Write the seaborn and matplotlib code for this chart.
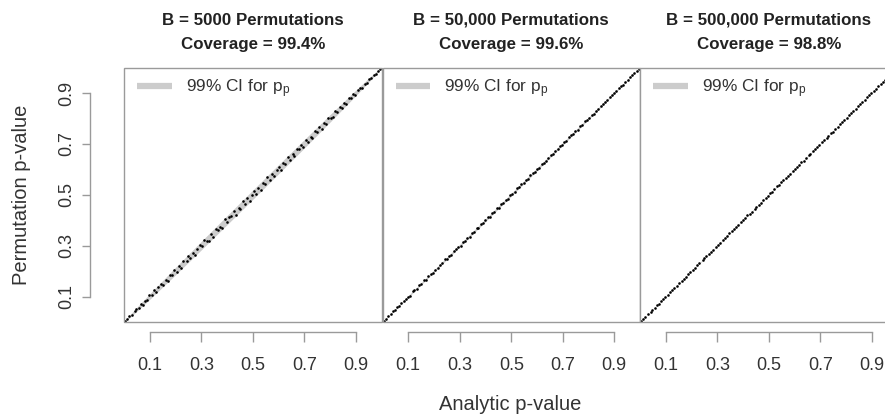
import numpy as np
import pandas as pd
import matplotlib
matplotlib.use("Agg")
import matplotlib.pyplot as plt
from matplotlib.lines import Line2D
from matplotlib.patches import Rectangle
import seaborn as sns

# ---------------- data ----------------
panel_titles = ["B = 5000 Permutations", "B = 50,000 Permutations", "B = 500,000 Permutations"]
coverage = ["99.4%", "99.6%", "98.8%"]

analytic_p = [
    0.004, 0.013, 0.021, 0.032, 0.041, 0.048, 0.057, 0.066, 0.073, 0.082,
    0.091, 0.098, 0.107, 0.118, 0.124, 0.133, 0.142, 0.151, 0.163, 0.169,
    0.178, 0.187, 0.196, 0.204, 0.215, 0.222, 0.231, 0.243, 0.249, 0.258,
    0.267, 0.276, 0.284, 0.295, 0.303, 0.311, 0.322, 0.329, 0.338, 0.347,
    0.356, 0.366, 0.372, 0.381, 0.392, 0.399, 0.408, 0.417, 0.426, 0.434,
    0.445, 0.452, 0.461, 0.469, 0.478, 0.489, 0.496, 0.504, 0.513, 0.521,
    0.532, 0.539, 0.548, 0.557, 0.566, 0.574, 0.583, 0.593, 0.601, 0.609,
    0.618, 0.627, 0.636, 0.644, 0.655, 0.662, 0.671, 0.681, 0.688, 0.697,
    0.706, 0.714, 0.725, 0.732, 0.741, 0.749, 0.759, 0.768, 0.776, 0.785,
    0.794, 0.802, 0.812, 0.821, 0.829, 0.838, 0.847, 0.856, 0.864, 0.873,
    0.883, 0.891, 0.899, 0.908, 0.917, 0.926, 0.934, 0.943, 0.952, 0.961,
    0.969, 0.978, 0.987, 0.995]

# permutation p-value minus analytic p-value, per panel
diff_b5000 = [
    0.001, -0.002, 0.003, -0.004, 0.002, 0.005, -0.003, 0.004, -0.006, 0.002,
    -0.005, 0.007, -0.002, 0.006, -0.008, 0.003, 0.009, -0.006, 0.001, -0.009,
    0.007, -0.004, 0.010, -0.007, 0.004, -0.010, 0.008, -0.002, 0.011, -0.008,
    0.005, -0.011, 0.002, 0.009, -0.006, 0.012, -0.003, -0.010, 0.007, -0.012,
    0.010, -0.005, 0.003, -0.011, 0.012, -0.008, 0.006, -0.002, 0.011, -0.012,
    0.004, -0.009, 0.013, -0.006, 0.008, -0.013, 0.002, 0.011, -0.010, 0.005,
    -0.012, 0.009, -0.004, 0.012, -0.008, 0.006, -0.011, 0.003, 0.010, -0.013,
    0.007, -0.005, 0.012, -0.009, 0.004, -0.011, 0.010, -0.003, 0.008, -0.010,
    0.011, -0.006, 0.002, -0.009, 0.010, -0.004, 0.007, -0.010, 0.005, -0.008,
    0.009, -0.002, -0.007, 0.008, -0.005, 0.006, -0.008, 0.003, -0.006, 0.007,
    -0.004, 0.005, -0.006, 0.002, 0.004, -0.005, 0.003, -0.004, 0.002, -0.003,
    0.003, -0.002, 0.001, -0.001]

diff_b50000 = [
    0.000, -0.001, 0.001, -0.001, 0.002, -0.001, 0.001, -0.002, 0.001, 0.002,
    -0.002, 0.001, -0.003, 0.002, 0.000, -0.002, 0.003, -0.001, 0.002, -0.003,
    0.001, 0.003, -0.002, 0.000, -0.003, 0.002, -0.001, 0.004, -0.002, 0.001,
    -0.004, 0.002, 0.003, -0.001, -0.003, 0.004, -0.002, 0.001, -0.004, 0.003,
    -0.001, 0.002, -0.003, 0.004, -0.002, 0.000, 0.003, -0.004, 0.002, -0.001,
    0.004, -0.003, 0.001, -0.002, 0.003, -0.004, 0.002, 0.000, -0.003, 0.004,
    -0.001, 0.003, -0.002, 0.001, -0.004, 0.002, 0.004, -0.003, 0.001, -0.002,
    0.003, -0.001, -0.004, 0.002, 0.003, -0.002, 0.001, -0.003, 0.004, -0.001,
    0.002, -0.003, 0.001, 0.003, -0.002, 0.000, -0.003, 0.002, -0.001, 0.003,
    -0.002, 0.001, 0.002, -0.003, 0.001, -0.002, 0.002, -0.001, 0.001, -0.002,
    0.002, -0.001, 0.001, -0.002, 0.001, 0.000, -0.001, 0.001, -0.001, 0.001,
    0.000, -0.001, 0.000, 0.000]

diff_b500000 = [
    0.0000, -0.0005, 0.0005, 0.0000, -0.0005, 0.0005, -0.0005, 0.0010, -0.0005, 0.0000,
    0.0010, -0.0010, 0.0005, -0.0005, 0.0010, 0.0000, -0.0010, 0.0005, -0.0010, 0.0010,
    -0.0005, 0.0015, -0.0010, 0.0005, -0.0015, 0.0010, 0.0000, -0.0010, 0.0015, -0.0005,
    0.0010, -0.0015, 0.0005, 0.0010, -0.0010, 0.0000, 0.0015, -0.0005, -0.0015, 0.0010,
    0.0005, -0.0010, 0.0015, -0.0015, 0.0005, 0.0010, -0.0005, 0.0015, -0.0010, 0.0000,
    -0.0015, 0.0010, 0.0005, -0.0010, 0.0015, -0.0005, 0.0000, 0.0010, -0.0015, 0.0005,
    0.0015, -0.0010, 0.0005, -0.0005, 0.0010, -0.0015, 0.0000, 0.0015, -0.0010, 0.0005,
    -0.0005, 0.0010, -0.0015, 0.0010, 0.0000, -0.0010, 0.0015, -0.0005, 0.0005, -0.0010,
    0.0010, 0.0000, -0.0010, 0.0005, 0.0010, -0.0005, 0.0000, -0.0010, 0.0010, -0.0005,
    0.0005, -0.0010, 0.0005, 0.0010, -0.0005, 0.0000, 0.0005, -0.0005, 0.0010, -0.0005,
    0.0000, 0.0005, -0.0005, 0.0005, 0.0000, -0.0005, 0.0005, 0.0000, -0.0005, 0.0000,
    0.0005, 0.0000, -0.0005, 0.0000]

# 99% CI half-widths for p_p at a grid of p values
ci_p = [0.0, 0.02, 0.05, 0.1, 0.2, 0.3, 0.4, 0.5, 0.6, 0.7, 0.8, 0.9, 0.95, 0.98, 1.0]
ci_hw_b5000 = [0, 0.0051, 0.0079, 0.0109, 0.0146, 0.0167, 0.0178, 0.0182, 0.0178, 0.0167, 0.0146, 0.0109, 0.0079, 0.0051, 0]
ci_hw_b50000 = [0, 0.0016, 0.0025, 0.0035, 0.0046, 0.0053, 0.0056, 0.0058, 0.0056, 0.0053, 0.0046, 0.0035, 0.0025, 0.0016, 0]
ci_hw_b500000 = [0, 0.0005, 0.0008, 0.0011, 0.0015, 0.0017, 0.0018, 0.0018, 0.0018, 0.0017, 0.0015, 0.0011, 0.0008, 0.0005, 0]

tick_vals = [0.1, 0.3, 0.5, 0.7, 0.9]
tick_labels = ["0.1", "0.3", "0.5", "0.7", "0.9"]

diffs = [diff_b5000, diff_b50000, diff_b500000]
ci_hws = [ci_hw_b5000, ci_hw_b50000, ci_hw_b500000]

frames = []
for k, d in enumerate(diffs):
    a = np.asarray(analytic_p)
    frames.append(pd.DataFrame({"panel": k, "analytic": a, "perm": a + np.asarray(d)}))
df = pd.concat(frames, ignore_index=True)

# ---------------- style ----------------
sns.set_style("white")
plt.rcParams["font.family"] = ["Liberation Sans", "DejaVu Sans"]
plt.rcParams["mathtext.fontset"] = "custom"
plt.rcParams["mathtext.rm"] = "Liberation Sans"
plt.rcParams["mathtext.it"] = "Liberation Sans"

TXT = "#333333"
GRID = "#9a9a9a"
BAND = "#cccccc"

W, H = 885, 420
fig = plt.figure(figsize=(W / 100, H / 100), dpi=100)
fig.patch.set_facecolor("white")

lefts = [124, 382.5, 640]
pw = 257.5
top, bottom = 67.5, 322
PX = 72 / 100  # points per pixel

for k in range(3):
    ax = fig.add_axes([lefts[k] / W, (H - bottom) / H, pw / W, (bottom - top) / H])
    ax.set_facecolor("white")
    ax.fill_between(ci_p, np.asarray(ci_p) - np.asarray(ci_hws[k]),
                    np.asarray(ci_p) + np.asarray(ci_hws[k]),
                    color=BAND, linewidth=0, zorder=1)
    sns.scatterplot(data=df[df.panel == k], x="analytic", y="perm", ax=ax,
                    color="black", s=3.5, linewidth=0, legend=False, zorder=3)
    ax.set_xlim(0, 1)
    ax.set_ylim(0, 1)
    ax.set_xlabel("")
    ax.set_ylabel("")

    # box
    ax.add_patch(Rectangle((0, 0), 1, 1, transform=ax.transAxes, fill=False,
                           edgecolor=GRID, linewidth=1.0, clip_on=False, zorder=5))
    for s in ["top", "right"]:
        ax.spines[s].set_visible(False)
    # detached bottom axis
    ax.spines["bottom"].set_visible(True)
    ax.spines["bottom"].set_position(("outward", 10 * PX))
    ax.spines["bottom"].set_bounds(0.1, 0.9)
    ax.spines["bottom"].set_color(GRID)
    ax.spines["bottom"].set_linewidth(1.0)
    ax.set_xticks(tick_vals)
    ax.set_xticklabels(tick_labels)
    ax.tick_params(axis="x", direction="out", length=10 * PX, width=1.0, color=GRID,
                   labelsize=13, labelcolor=TXT, pad=11, bottom=True)
    if k == 0:
        ax.spines["left"].set_visible(True)
        ax.spines["left"].set_position(("outward", 34 * PX))
        ax.spines["left"].set_bounds(0.1, 0.9)
        ax.spines["left"].set_color(GRID)
        ax.spines["left"].set_linewidth(1.0)
        ax.set_yticks(tick_vals)
        ax.set_yticklabels(tick_labels, rotation=90, va="center")
        ax.tick_params(axis="y", direction="out", length=8 * PX, width=1.0, color=GRID,
                       labelsize=13, labelcolor=TXT, pad=5, left=True)
    else:
        ax.spines["left"].set_visible(False)
        ax.set_yticks([])

    ax.set_title(panel_titles[k] + "\nCoverage = " + coverage[k], fontsize=12.2,
                 fontweight="bold", color="#222222", linespacing=1.8, pad=13)

    handle = Line2D([0], [0], color=BAND, linewidth=4.5, solid_capstyle="butt")
    leg = ax.legend([handle], ["99% CI for p$_\\mathregular{p}$"], loc="upper left",
                    bbox_to_anchor=(0.052, 0.962), frameon=False, borderpad=0,
                    borderaxespad=0, handlelength=2.0, handletextpad=0.82,
                    fontsize=12.4)
    for t in leg.get_texts():
        t.set_color(TXT)

fig.text(22 / W, 1 - 195 / H, "Permutation p-value", rotation=90, ha="center",
         va="center", fontsize=14.5, color=TXT)
fig.text(510 / W, 1 - 404 / H, "Analytic p-value", ha="center", va="center",
         fontsize=14.5, color=TXT)

fig.savefig("out.png", dpi=100, facecolor="white")
